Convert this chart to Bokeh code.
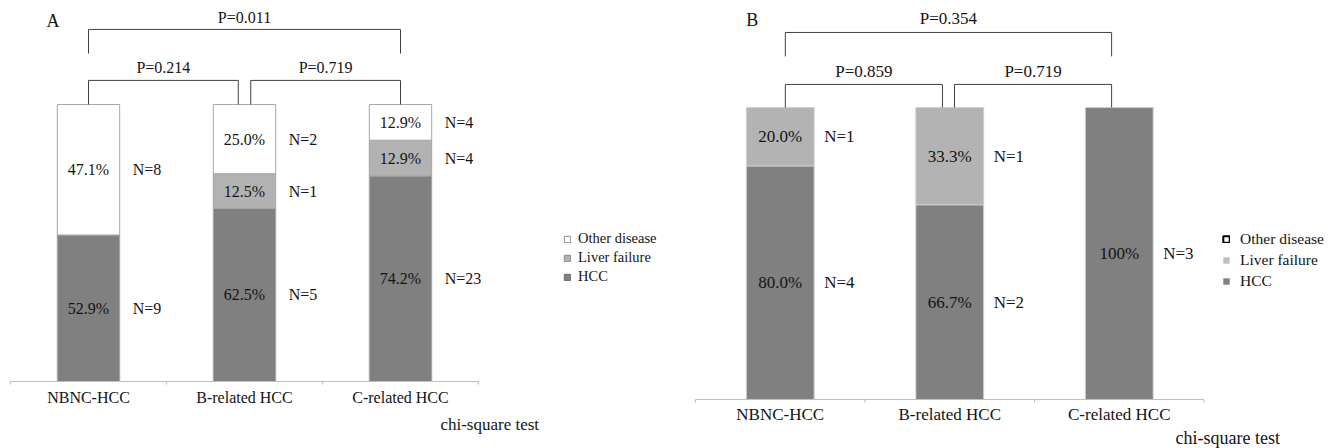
from bokeh.plotting import figure
from bokeh.models import Range1d, Legend, LegendItem, ColumnDataSource
from bokeh.layouts import row
from bokeh.core.properties import value
from bokeh.embed import file_html
from bokeh.resources import INLINE

# ---------------- data ----------------
categories = ["NBNC-HCC", "B-related HCC", "C-related HCC"]
statuses = ["HCC", "Liver failure", "Other disease"]

a_hcc_pct = [52.9, 62.5, 74.2]
a_liver_pct = [0.0, 12.5, 12.9]
a_other_pct = [47.1, 25.0, 12.9]
a_hcc_n = [9, 5, 23]
a_liver_n = [0, 1, 4]
a_other_n = [8, 2, 4]
a_pvalues = [0.214, 0.719, 0.011]   # NBNC vs B, B vs C, NBNC vs C

b_hcc_pct = [80.0, 66.7, 100.0]
b_liver_pct = [20.0, 33.3, 0.0]
b_other_pct = [0.0, 0.0, 0.0]
b_hcc_n = [4, 2, 3]
b_liver_n = [1, 1, 0]
b_other_n = [0, 0, 0]
b_pvalues = [0.859, 0.719, 0.354]

FONT = "Liberation Serif"
TXT = "#141414"
NAN = float("nan")


def fmt_pct(v):
    return "100%" if v >= 100 else f"{v:.1f}%"


def panel(letter, pcts, ns, pvals, g):
    p = figure(width=666, height=448,
               x_range=Range1d(*g["xr"]), y_range=Range1d(*g["yr"]),
               output_backend="svg", toolbar_location=None,
               x_axis_location=None, y_axis_location=None,
               min_border=0)
    p.outline_line_color = None
    p.grid.visible = False
    p.background_fill_color = "white"
    p.border_fill_color = "white"

    n = len(categories)
    xs = [i + 0.5 for i in range(n)]
    keys = ["HCC", "Liver", "Other"]
    src = ColumnDataSource(dict(x=xs, HCC=pcts[0], Liver=pcts[1], Other=pcts[2]))
    p.vbar_stack(keys, x="x", width=0.4, source=src,
                 fill_color=g["fills"], line_color=g["bar_line"], line_width=1)

    # category axis: baseline, boundary ticks, labels
    p.segment(x0=[0], y0=[0], x1=[n], y1=[0], line_color="#bfbfbf", line_width=1.2)
    p.segment(x0=list(range(n + 1)), y0=[0] * (n + 1), x1=list(range(n + 1)),
              y1=[-g["tick"]] * (n + 1), line_color="#bfbfbf", line_width=1.2)
    p.text(x=xs, y=[g["cat_y"]] * n, text=categories, text_font=value(FONT),
           text_font_size=g["fs"], text_align="center", text_baseline="middle",
           text_color=TXT)
    p.text(x=[g["chi_xy"][0]], y=[g["chi_xy"][1]], text=["chi-square test"],
           text_font=value(FONT), text_font_size=g["chi_fs"], text_align="left",
           text_baseline="middle", text_color=TXT)

    # segment labels
    lx, ly, lt, nx, ny, nt = [], [], [], [], [], []
    for i in range(n):
        bottom = 0.0
        for s in range(3):
            v = pcts[s][i]
            if v > 0:
                c = bottom + v / 2.0
                lx.append(xs[i]); ly.append(c); lt.append(fmt_pct(v))
                nx.append(xs[i] + 0.2); ny.append(c); nt.append(f"N={ns[s][i]}")
            bottom += v
    p.text(x=lx, y=ly, text=lt, text_font=value(FONT), text_font_size=g["fs"],
           text_align="center", text_baseline="middle", text_color=TXT)
    p.text(x=nx, y=ny, text=nt, text_font=value(FONT), text_font_size=g["fs"],
           text_align="left", text_baseline="middle", text_color=TXT, x_offset=g["noff"])

    # brackets with p-values
    L, GL, GR, R = g["bx"]
    ylo, yhi = g["by_low"], g["by_top"]
    bxs = [[L, L, GL, GL], [GR, GR, R, R], [L, L, R, R]]
    bys = [[100, ylo, ylo, 100], [100, ylo, ylo, 100],
           [g["top_drop"], yhi, yhi, g["top_drop"]]]
    p.multi_line(xs=bxs, ys=bys, line_color="#404040", line_width=1)
    ptx = [(L + GL) / 2, (GR + R) / 2, (L + R) / 2]
    pty = [g["pt_low"], g["pt_low"], g["pt_top"]]
    p.text(x=ptx, y=pty, text=[f"P={v:.3f}" for v in pvals], text_font=value(FONT),
           text_font_size=g["fs"], text_align="center", text_baseline="middle",
           text_color=TXT)
    p.text(x=[g["letter_xy"][0]], y=[g["letter_xy"][1]], text=[letter],
           text_font=value(FONT), text_font_size="18px", text_align="left",
           text_baseline="middle", text_color=TXT)

    # legend (proxy renderers that draw nothing in the plot)
    items = []
    for name, (fc, lc, lw) in zip(["Other disease", "Liver failure", "HCC"], g["leg_styles"]):
        r = p.vbar(x=[NAN], top=[NAN], width=0.4, fill_color=fc, line_color=lc, line_width=lw)
        items.append(LegendItem(label=name, renderers=[r]))
    leg = Legend(items=items, location=g["leg_loc"], glyph_width=8, glyph_height=8,
                 label_standoff=g["leg_standoff"], label_height=g["leg_h"], spacing=0,
                 padding=0, margin=0, border_line_color=None, background_fill_alpha=0,
                 label_text_font=FONT, label_text_font_size=g["leg_fs"],
                 label_text_color=TXT)
    p.add_layout(leg)
    return p


KA = 2.77   # px per percent, panel A
KB = 2.92   # px per percent, panel B

geo_a = dict(
    xr=(-10 / 156, 656 / 156), yr=((381 - 448) / KA, 381 / KA),
    fills=["#808080", "#b2b2b2", "#ffffff"], bar_line="#a6a6a6", fs="16px",
    tick=3 / KA, cat_y=(381 - 397) / KA, chi_xy=(2.756, (381 - 424) / KA), chi_fs="17px",
    noff=13, bx=(0.5, 1.46, 1.54, 2.5), by_low=108.7, by_top=127.1, top_drop=118.4,
    pt_low=113.4, pt_top=131.4, letter_xy=(0.23, 130.3),
    leg_styles=[("#ffffff", "#8c8c8c", 1), ("#b2b2b2", "#8c8c8c", 1), ("#808080", "#6e6e6e", 1)],
    leg_loc=(563, 162), leg_standoff=7, leg_h=19, leg_fs="14.5px",
)

geo_b = dict(
    xr=(-29 / 169.5, 637 / 169.5), yr=((399 - 448) / KB, 399 / KB),
    fills=["#808080", "#b3b3b3", "#ffffff"], bar_line="#cfcfcf", fs="17px",
    tick=3 / KB, cat_y=(399 - 413.5) / KB, chi_xy=(2.832, (399 - 437) / KB), chi_fs="18px",
    noff=10, bx=(0.53, 1.457, 1.528, 2.455), by_low=107.9, by_top=125.7, top_drop=117.5,
    pt_low=112.3, pt_top=130.5, letter_xy=(0.30, 129.8),
    leg_styles=[("#ffffff", "#000000", 2), ("#c0c0c0", None, 0), ("#808080", None, 0)],
    leg_loc=(556, 157), leg_standoff=10, leg_h=21, leg_fs="15.5px",
)

pa = panel("A", [a_hcc_pct, a_liver_pct, a_other_pct], [a_hcc_n, a_liver_n, a_other_n],
           a_pvalues, geo_a)
pb = panel("B", [b_hcc_pct, b_liver_pct, b_other_pct], [b_hcc_n, b_liver_n, b_other_n],
           b_pvalues, geo_b)

layout = row(pa, pb)
open("out.html", "w").write(file_html(layout, INLINE))
